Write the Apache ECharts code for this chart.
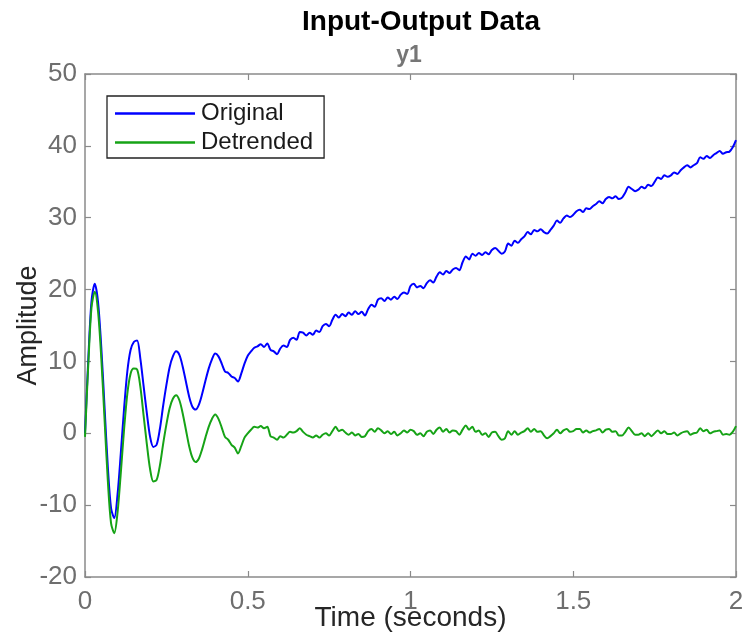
<!DOCTYPE html>
<html>
<head>
<meta charset="utf-8">
<script src="https://cdn.jsdelivr.net/npm/echarts@6/dist/echarts.min.js"></script>
<style>
  html, body { margin: 0; padding: 0; background: #fff; }
  #chart { width: 743px; height: 634px; }
</style>
</head>
<body>
<div id="chart"></div>
<script>
// Sampling grid of the recorded signal (seconds)
const T_START = 0;
const T_STEP = 0.01;

// Measured output y1 (raw)
const originalValues = [
  0.0, 10.2, 18.4, 20.8, 18.3, 12.0, 3.7, -4.6, -10.4, -11.8,
  -8.5, -2.8, 3.4, 8.6, 11.6, 12.7, 12.9, 10.4, 6.6, 2.8,
  -0.5, -1.9, -1.6, 0.6, 3.8, 6.7, 9.2, 10.7, 11.4, 10.9,
  9.3, 7.2, 5.1, 3.7, 3.3, 4.0, 5.5, 7.3, 9.0, 10.3,
  11.1, 10.7, 9.7, 8.6, 8.4, 7.9, 7.7, 7.2, 8.3, 9.7,
  10.8, 11.4, 11.9, 12.1, 12.4, 12.0, 12.5, 11.6, 11.4, 11.0,
  11.8, 12.2, 12.0, 13.0, 13.3, 13.0, 14.1, 14.0, 13.6, 14.0,
  13.7, 14.3, 14.1, 14.9, 15.2, 14.9, 15.8, 16.5, 16.1, 16.6,
  16.3, 16.8, 16.5, 17.0, 16.6, 16.9, 16.4, 17.3, 17.9, 17.6,
  18.6, 18.8, 18.4, 18.9, 18.6, 19.0, 18.7, 19.3, 19.6, 19.4,
  20.5, 20.8, 20.3, 20.5, 20.2, 20.9, 21.3, 21.0, 21.8, 22.4,
  22.1, 22.6, 22.3, 22.8, 23.0, 22.7, 23.8, 24.6, 24.2, 25.0,
  24.7, 25.1, 24.8, 25.2, 24.9, 25.5, 25.8, 25.4, 25.0, 25.3,
  26.4, 26.1, 26.8, 26.5, 27.0, 27.4, 28.0, 27.7, 28.3, 28.1,
  28.4, 28.0, 27.8, 28.3, 28.9, 29.6, 29.3, 29.9, 30.3, 30.1,
  30.4, 30.9, 31.1, 30.8, 31.3, 31.2, 31.6, 31.9, 32.3, 32.0,
  32.6, 32.9, 32.7, 33.0, 32.6, 32.8, 33.5, 34.3, 34.0, 33.7,
  33.9, 34.3, 34.1, 34.6, 34.4, 35.0, 35.6, 35.4, 35.9, 35.7,
  35.9, 36.3, 36.1, 36.6, 37.0, 37.3, 37.0, 37.3, 37.6, 38.4,
  38.2, 38.6, 38.3, 38.7, 39.0, 39.3, 38.9, 39.1, 39.2, 39.8,
  40.8
];

// Same output with its linear trend removed
const detrendedValues = [
  -0.5, 9.5, 17.5, 19.7, 17.0, 10.5, 2.0, -6.5, -12.5, -13.9,
  -11.0, -5.5, 0.5, 5.5, 8.3, 9.0, 8.9, 6.5, 2.5, -1.5,
  -5.0, -6.7, -6.5, -4.5, -1.5, 1.2, 3.5, 4.8, 5.3, 4.6,
  2.8, 0.5, -1.8, -3.4, -4.0, -3.5, -2.2, -0.6, 0.9, 2.0,
  2.6, 2.0, 0.8, -0.5, -0.9, -1.6, -2.0, -2.8, -1.8, -0.6,
  0.0, 0.5, 0.9, 0.8, 1.0, 0.7, 0.9, -0.4, -0.6, -0.9,
  -0.4, -0.6, -0.2, 0.2, 0.1, 0.3, 0.7, 0.2, -0.2, -0.4,
  -0.6, -0.3, -0.6, -0.2, 0.0, -0.3, 0.3, 0.9, 0.3, 0.5,
  0.1, -0.2, 0.1, -0.3, -0.1, -0.5, -0.4, 0.3, 0.6, 0.2,
  0.7, 0.4, 0.0, 0.3, -0.1, 0.2, -0.3, 0.0, 0.4, 0.1,
  0.5, 0.3, -0.2, 0.0, -0.4, 0.2, 0.4, -0.1, 0.5, 0.8,
  0.2, 0.6, 0.1, 0.4, 0.3, -0.2, 0.5, 1.1, 0.5, 0.9,
  0.2, 0.4, -0.2, 0.0, -0.5, 0.1, 0.2, -0.4, -0.9, -0.7,
  0.3, -0.2, 0.3, -0.2, 0.1, 0.3, 0.7, 0.2, 0.6, 0.2,
  0.3, -0.3, -0.7, -0.4, 0.0, 0.5, 0.0, 0.4, 0.6, 0.2,
  0.3, 0.6, 0.6, 0.1, 0.4, 0.1, 0.3, 0.4, 0.6, 0.1,
  0.5, 0.6, 0.2, 0.3, -0.3, -0.3, 0.2, 0.8, 0.3, -0.2,
  -0.2, 0.0, -0.4, 0.0, -0.4, 0.0, 0.4, 0.0, 0.3, -0.1,
  -0.1, 0.1, -0.3, 0.0, 0.2, 0.3, -0.2, 0.0, 0.1, 0.7,
  0.3, 0.5, 0.0, 0.2, 0.3, 0.4, -0.2, -0.1, -0.2, 0.2,
  1.0
];

// Axis ticks
const xTicks = [0, 0.5, 1, 1.5, 2];
const yTicks = [-20, -10, 0, 10, 20, 30, 40, 50];

const seriesNames = ['Original', 'Detrended'];
const seriesColors = ['#0000ff', '#16a316'];

function pairs(values) {
  return values.map((v, i) => [+(T_START + i * T_STEP).toFixed(3), v]);
}

const FONT = "'Liberation Sans', Arial, sans-serif";
const TICK_GRAY = '#6e6e6e';
const AXIS_GRAY = '#8a8a8a';

const baseX = {
  type: 'value',
  min: xTicks[0],
  max: xTicks[xTicks.length - 1],
  interval: 0.5,
  splitLine: { show: false },
  axisLine: { show: true, onZero: false, lineStyle: { color: AXIS_GRAY, width: 1.5 } },
  axisTick: { show: true, inside: true, length: 6, lineStyle: { color: AXIS_GRAY, width: 1.2 } }
};
const baseY = {
  type: 'value',
  min: yTicks[0],
  max: yTicks[yTicks.length - 1],
  interval: 10,
  splitLine: { show: false },
  axisLine: { show: true, onZero: false, lineStyle: { color: AXIS_GRAY, width: 1.5 } },
  axisTick: { show: true, inside: true, length: 6, lineStyle: { color: AXIS_GRAY, width: 1.2 } }
};

const chart = echarts.init(document.getElementById('chart'), null, { renderer: 'canvas' });

chart.setOption({
  animation: false,
  backgroundColor: '#ffffff',
  textStyle: { fontFamily: FONT },
  graphic: [
    {
      type: 'text', x: 421, y: 22,
      style: { text: 'Input-Output Data', fontFamily: FONT, fontWeight: 'bold', fontSize: 28, fill: '#000', align: 'center', verticalAlign: 'middle' }
    },
    {
      type: 'text', x: 409, y: 56,
      style: { text: 'y1', fontFamily: FONT, fontWeight: 'bold', fontSize: 23, fill: '#767676', align: 'center', verticalAlign: 'middle' }
    }
  ],
  grid: { left: 85, right: 7, top: 74, bottom: 57, containLabel: false, outerBoundsMode: 'none' },
  legend: {
    orient: 'vertical',
    left: 107, top: 96,
    backgroundColor: '#fff',
    borderColor: '#222',
    borderWidth: 1.3,
    borderRadius: 0,
    padding: [5, 11, 3, 8],
    itemWidth: 80, itemHeight: 2.5,
    itemGap: 4,
    icon: 'rect',
    textStyle: { fontFamily: FONT, fontSize: 24, color: '#1a1a1a', lineHeight: 25, padding: [0, 0, 0, 1] },
    data: seriesNames
  },
  xAxis: [
    Object.assign({}, baseX, {
      position: 'bottom',
      name: 'Time (seconds)',
      nameLocation: 'middle',
      nameGap: 27,
      nameMoveOverlap: false,
      nameTextStyle: { fontFamily: FONT, fontSize: 28, color: '#262626' },
      axisLabel: { show: true, margin: 12, fontFamily: FONT, fontSize: 26, color: TICK_GRAY }
    }),
    Object.assign({}, baseX, { position: 'top', axisLabel: { show: false } })
  ],
  yAxis: [
    Object.assign({}, baseY, {
      position: 'left',
      name: 'Amplitude',
      nameLocation: 'middle',
      nameGap: 43,
      nameMoveOverlap: false,
      nameTextStyle: { fontFamily: FONT, fontSize: 27, color: '#262626' },
      axisLabel: { show: true, margin: 8, fontFamily: FONT, fontSize: 26, color: TICK_GRAY }
    }),
    Object.assign({}, baseY, { position: 'right', axisLabel: { show: false } })
  ],
  series: [
    {
      name: seriesNames[0], type: 'line', xAxisIndex: 0, yAxisIndex: 0,
      data: pairs(originalValues), showSymbol: false, symbol: 'none', smooth: 0.3,
      lineStyle: { color: seriesColors[0], width: 2 }, itemStyle: { color: seriesColors[0] }
    },
    {
      name: seriesNames[1], type: 'line', xAxisIndex: 0, yAxisIndex: 0,
      data: pairs(detrendedValues), showSymbol: false, symbol: 'none', smooth: 0.3,
      lineStyle: { color: seriesColors[1], width: 2 }, itemStyle: { color: seriesColors[1] }
    }
  ]
});
</script>
</body>
</html>
